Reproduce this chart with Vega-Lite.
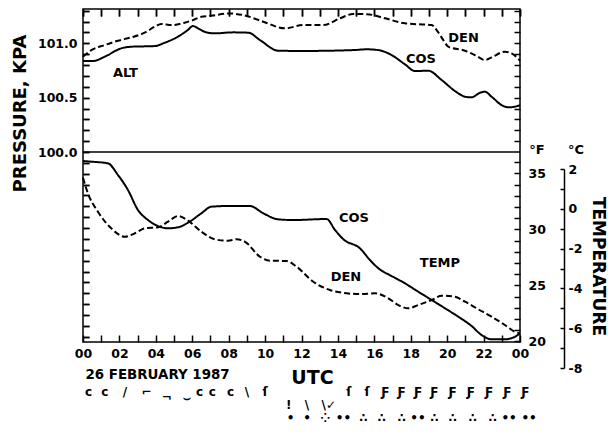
{
"$schema":"https://vega.github.io/schema/vega-lite/v6.json",
"width":437,"height":333,
"autosize":{"type":"none"},
"padding":{"left":83,"top":9,"right":88,"bottom":92},
"background":"white",
"config":{
 "view":{"stroke":"black","strokeWidth":1.5},
 "font":"DejaVu Sans",
 "axis":{"zindex":1,"labelFont":"DejaVu Sans","labelFontWeight":"bold","labelFontSize":12.5,"labelColor":"black","tickColor":"black","tickWidth":1.5,"ticks":true,"domain":false,"domainColor":"black","domainWidth":1.5,"grid":true,"gridColor":"black","gridWidth":1.5,"gridOpacity":1,"gridDash":[7,1000],"titleFont":"DejaVu Sans","titleFontWeight":"bold","titleColor":"black","labelOverlap":false,"labelFlush":false,"labelBound":false},
 "text":{"font":"DejaVu Sans","color":"black"}
},
"datasets":{
 "pressure":[
  {"series":"COS","hour":0,"kPa":100.837},{"series":"COS","hour":0.55,"kPa":100.837},{"series":"COS","hour":1.19,"kPa":100.877},{"series":"COS","hour":2.1,"kPa":100.954},{"series":"COS","hour":2.65,"kPa":100.969},{"series":"COS","hour":3.94,"kPa":100.975},{"series":"COS","hour":4.49,"kPa":101.006},{"series":"COS","hour":5.21,"kPa":101.061},{"series":"COS","hour":5.75,"kPa":101.122},{"series":"COS","hour":6.04,"kPa":101.159},{"series":"COS","hour":6.32,"kPa":101.138},{"series":"COS","hour":6.77,"kPa":101.101},{"series":"COS","hour":7.23,"kPa":101.092},{"series":"COS","hour":8.25,"kPa":101.101},{"series":"COS","hour":9.08,"kPa":101.098},{"series":"COS","hour":9.72,"kPa":101.03},{"series":"COS","hour":10.73,"kPa":100.932},{"series":"COS","hour":12.1,"kPa":100.93},{"series":"COS","hour":14.84,"kPa":100.938},{"series":"COS","hour":15.6,"kPa":100.945},{"series":"COS","hour":16.22,"kPa":100.938},{"series":"COS","hour":16.95,"kPa":100.892},{"series":"COS","hour":17.68,"kPa":100.807},{"series":"COS","hour":18.23,"kPa":100.745},{"series":"COS","hour":18.96,"kPa":100.748},{"series":"COS","hour":19.7,"kPa":100.662},{"series":"COS","hour":20.43,"kPa":100.561},{"series":"COS","hour":20.98,"kPa":100.509},{"series":"COS","hour":21.34,"kPa":100.503},{"series":"COS","hour":21.8,"kPa":100.545},{"series":"COS","hour":22.07,"kPa":100.555},{"series":"COS","hour":22.44,"kPa":100.509},{"series":"COS","hour":22.99,"kPa":100.432},{"series":"COS","hour":23.36,"kPa":100.411},{"series":"COS","hour":23.72,"kPa":100.417},{"series":"COS","hour":24,"kPa":100.432},
  {"series":"DEN","hour":0,"kPa":100.877},{"series":"DEN","hour":0.46,"kPa":100.938},{"series":"DEN","hour":1.19,"kPa":100.984},{"series":"DEN","hour":1.92,"kPa":101.024},{"series":"DEN","hour":2.65,"kPa":101.055},{"series":"DEN","hour":3.39,"kPa":101.098},{"series":"DEN","hour":3.94,"kPa":101.153},{"series":"DEN","hour":4.3,"kPa":101.178},{"series":"DEN","hour":4.85,"kPa":101.168},{"series":"DEN","hour":5.58,"kPa":101.19},{"series":"DEN","hour":6.04,"kPa":101.214},{"series":"DEN","hour":6.5,"kPa":101.245},{"series":"DEN","hour":7.05,"kPa":101.254},{"series":"DEN","hour":8.0,"kPa":101.275},{"series":"DEN","hour":8.8,"kPa":101.26},{"series":"DEN","hour":9.9,"kPa":101.199},{"series":"DEN","hour":11.09,"kPa":101.138},{"series":"DEN","hour":12.1,"kPa":101.168},{"series":"DEN","hour":13.2,"kPa":101.168},{"series":"DEN","hour":14.11,"kPa":101.23},{"series":"DEN","hour":14.84,"kPa":101.27},{"series":"DEN","hour":15.6,"kPa":101.268},{"series":"DEN","hour":16.59,"kPa":101.23},{"series":"DEN","hour":17.68,"kPa":101.184},{"series":"DEN","hour":19.15,"kPa":101.168},{"series":"DEN","hour":19.42,"kPa":101.122},{"series":"DEN","hour":19.79,"kPa":101.03},{"series":"DEN","hour":20.06,"kPa":100.969},{"series":"DEN","hour":20.98,"kPa":100.932},{"series":"DEN","hour":21.53,"kPa":100.892},{"series":"DEN","hour":22.08,"kPa":100.846},{"series":"DEN","hour":22.44,"kPa":100.871},{"series":"DEN","hour":23.17,"kPa":100.923},{"series":"DEN","hour":23.54,"kPa":100.908},{"series":"DEN","hour":24,"kPa":100.84}
 ],
 "temperature":[
  {"series":"COS","hour":0,"F":36.1},{"series":"COS","hour":0.46,"F":36.04},{"series":"COS","hour":1.37,"F":35.89},{"series":"COS","hour":1.92,"F":34.85},{"series":"COS","hour":2.47,"F":33.51},{"series":"COS","hour":3.02,"F":31.72},{"series":"COS","hour":3.57,"F":30.83},{"series":"COS","hour":4.12,"F":30.29},{"series":"COS","hour":4.67,"F":30.09},{"series":"COS","hour":5.22,"F":30.18},{"series":"COS","hour":5.77,"F":30.59},{"series":"COS","hour":6.5,"F":31.43},{"series":"COS","hour":7.05,"F":32.02},{"series":"COS","hour":7.96,"F":32.08},{"series":"COS","hour":9.17,"F":32.08},{"series":"COS","hour":9.9,"F":31.43},{"series":"COS","hour":10.72,"F":30.89},{"series":"COS","hour":11.55,"F":30.83},{"series":"COS","hour":13.38,"F":30.92},{"series":"COS","hour":13.84,"F":29.94},{"series":"COS","hour":14.3,"F":29.11},{"series":"COS","hour":15.21,"F":28.3},{"series":"COS","hour":15.76,"F":27.26},{"series":"COS","hour":16.22,"F":26.52},{"series":"COS","hour":16.95,"F":25.83},{"series":"COS","hour":17.68,"F":25.18},{"series":"COS","hour":18.41,"F":24.43},{"series":"COS","hour":19.15,"F":23.69},{"series":"COS","hour":19.88,"F":22.95},{"series":"COS","hour":20.61,"F":22.2},{"series":"COS","hour":21.34,"F":21.37},{"series":"COS","hour":21.89,"F":20.56},{"series":"COS","hour":22.44,"F":20.18},{"series":"COS","hour":23.17,"F":20.18},{"series":"COS","hour":23.72,"F":20.41},{"series":"COS","hour":24,"F":20.71},
  {"series":"DEN","hour":0,"F":34.6},{"series":"DEN","hour":0.27,"F":33.21},{"series":"DEN","hour":0.82,"F":31.57},{"series":"DEN","hour":1.55,"F":30.09},{"series":"DEN","hour":2.29,"F":29.34},{"series":"DEN","hour":2.84,"F":29.64},{"series":"DEN","hour":3.39,"F":30.09},{"series":"DEN","hour":4.12,"F":30.18},{"series":"DEN","hour":4.67,"F":30.68},{"series":"DEN","hour":5.22,"F":31.19},{"series":"DEN","hour":5.77,"F":30.77},{"series":"DEN","hour":6.5,"F":29.79},{"series":"DEN","hour":7.23,"F":29.11},{"series":"DEN","hour":7.96,"F":28.98},{"series":"DEN","hour":8.44,"F":29.11},{"series":"DEN","hour":8.9,"F":28.89},{"series":"DEN","hour":9.72,"F":27.55},{"series":"DEN","hour":10.27,"F":27.2},{"series":"DEN","hour":11.19,"F":27.17},{"series":"DEN","hour":11.73,"F":26.66},{"series":"DEN","hour":12.65,"F":25.32},{"series":"DEN","hour":13.56,"F":24.58},{"series":"DEN","hour":14.48,"F":24.29},{"series":"DEN","hour":15.21,"F":24.22},{"series":"DEN","hour":16.04,"F":24.29},{"series":"DEN","hour":16.77,"F":23.84},{"series":"DEN","hour":17.32,"F":23.24},{"series":"DEN","hour":17.86,"F":22.95},{"series":"DEN","hour":18.41,"F":23.24},{"series":"DEN","hour":19.15,"F":23.69},{"series":"DEN","hour":19.7,"F":24.07},{"series":"DEN","hour":20.43,"F":23.98},{"series":"DEN","hour":20.98,"F":23.54},{"series":"DEN","hour":21.71,"F":22.86},{"series":"DEN","hour":22.44,"F":22.2},{"series":"DEN","hour":23.17,"F":21.46},{"series":"DEN","hour":23.72,"F":20.86},{"series":"DEN","hour":24,"F":20.71}
 ],
 "plabels":[{"hour":2.33,"kPa":100.73,"label":"ALT"},{"hour":18.56,"kPa":100.86,"label":"COS"},{"hour":20.9,"kPa":101.05,"label":"DEN"}],
 "tlabels":[{"hour":14.88,"F":31.05,"label":"COS"},{"hour":14.44,"F":25.7,"label":"DEN"},{"hour":19.6,"F":27.0,"label":"TEMP"},{"hour":24.93,"F":37.08,"label":"°F"}],
 "symbols":[
  {"hour":0.3,"row":1,"sym":"c"},{"hour":1.2,"row":1,"sym":"c"},{"hour":2.3,"row":1,"sym":"/"},{"hour":3.5,"row":1,"sym":"⌐"},{"hour":4.6,"row":1.35,"sym":"¬"},{"hour":5.7,"row":1.45,"sym":"⌣"},{"hour":6.4,"row":1,"sym":"c"},{"hour":7.1,"row":1,"sym":"c"},{"hour":8.1,"row":1,"sym":"c"},{"hour":9.0,"row":1,"sym":"\\"},{"hour":10.0,"row":1,"sym":"ſ"},
  {"hour":11.3,"row":2,"sym":"!"},{"hour":12.3,"row":2,"sym":"\\"},{"hour":13.5,"row":2,"sym":"\\✓"},
  {"hour":14.6,"row":1,"sym":"ſ"},{"hour":15.6,"row":1,"sym":"ſ"},{"hour":16.6,"row":1,"sym":"Ƒ"},{"hour":17.5,"row":1,"sym":"Ƒ"},{"hour":18.4,"row":1,"sym":"Ƒ"},{"hour":19.3,"row":1,"sym":"Ƒ"},{"hour":20.3,"row":1,"sym":"Ƒ"},{"hour":21.3,"row":1,"sym":"Ƒ"},{"hour":22.3,"row":1,"sym":"Ƒ"},{"hour":23.3,"row":1,"sym":"Ƒ"},{"hour":24.3,"row":1,"sym":"Ƒ"},
  {"hour":11.4,"row":3,"sym":"•"},{"hour":12.3,"row":3,"sym":"•"},{"hour":13.3,"row":3,"sym":"⁘"},{"hour":14.3,"row":3,"sym":"••"},{"hour":15.4,"row":3,"sym":"∴"},{"hour":16.4,"row":3,"sym":"∴"},{"hour":17.5,"row":3,"sym":"∴"},{"hour":18.4,"row":3,"sym":"••"},{"hour":19.3,"row":3,"sym":"∴"},{"hour":20.3,"row":3,"sym":"∴"},{"hour":21.4,"row":3,"sym":"∴"},{"hour":22.5,"row":3,"sym":"∴"},{"hour":23.4,"row":3,"sym":"••"},{"hour":24.5,"row":3,"sym":"••"}
 ]
},
"layer":[
 {"data":{"name":"pressure"},
  "mark":{"type":"line","color":"black","strokeWidth":2,"interpolate":"monotone"},
  "encoding":{
   "x":{"field":"hour","type":"quantitative","scale":{"domain":[0,24],"nice":false,"zero":false},
        "axis":{"orient":"bottom","values":[0,1,2,3,4,5,6,7,8,9,10,11,12,13,14,15,16,17,18,19,20,21,22,23,24],"tickSize":-7,"labelPadding":12,
                "labelExpr":"datum.value % 2 == 0 ? ((datum.value % 24) < 10 ? '0' : '') + (datum.value % 24) : ''",
                "title":"26 FEBRUARY 1987","titleX":2,"titleY":36,"titleAlign":"left","titleBaseline":"alphabetic","titleFontSize":13.4}},
   "y":{"field":"kPa","type":"quantitative","scale":{"domain":[98.252,101.316],"nice":false,"zero":false},
        "axis":{"orient":"left","values":[98.3,98.4,98.5,98.6,98.7,98.8,98.9,99.0,99.1,99.2,99.3,99.4,99.5,99.6,99.7,99.8,99.9,100.0,100.1,100.2,100.3,100.4,100.5,100.6,100.7,100.8,100.9,101.0,101.1,101.2,101.3],
                "tickSize":-6,"labelPadding":12,"gridDash":[6,1000],
                "labelExpr":"(abs(datum.value-100)<0.01 || abs(datum.value-100.5)<0.01 || abs(datum.value-101)<0.01) ? format(datum.value,'.1f') : ''",
                "title":"PRESSURE, KPA","titleX":-63,"titleY":104,"titleAngle":270,"titleAlign":"center","titleBaseline":"middle","titleFontSize":18}},
   "strokeDash":{"field":"series","type":"nominal","scale":{"domain":["COS","DEN"],"range":[[1,0],[6,3]]},"legend":null}
  }},
 {"data":{"values":[{"kPa":100.0,"start":0,"end":24}]},
  "mark":{"type":"rule","color":"black","strokeWidth":1.5},
  "encoding":{
   "x":{"field":"start","type":"quantitative","scale":{"domain":[0,24],"nice":false,"zero":false},
        "axis":{"orient":"top","values":[0,1,2,3,4,5,6,7,8,9,10,11,12,13,14,15,16,17,18,19,20,21,22,23,24],"tickSize":-7,"labels":false,
                "title":"UTC","titleX":229,"titleY":374,"titleAlign":"center","titleBaseline":"alphabetic","titleFontSize":19}},
   "x2":{"field":"end"},
   "y":{"field":"kPa","type":"quantitative","scale":{"domain":[98.252,101.316],"nice":false,"zero":false},
        "axis":{"orient":"right","values":[100.1,100.2,100.3,100.4,100.5,100.6,100.7,100.8,100.9,101.0,101.1,101.2,101.3],"tickSize":-6,"labels":false,"gridDash":[6,1000],"title":null}}
  }},
 {"data":{"name":"plabels"},
  "mark":{"type":"text","fontSize":13,"fontWeight":"bold"},
  "encoding":{
   "x":{"field":"hour","type":"quantitative","scale":{"domain":[0,24],"nice":false,"zero":false},"axis":null},
   "y":{"field":"kPa","type":"quantitative","scale":{"domain":[98.252,101.316],"nice":false,"zero":false},"axis":null},
   "text":{"field":"label"}
  }},
 {"data":{"name":"temperature"},
  "mark":{"type":"line","color":"black","strokeWidth":2,"interpolate":"monotone"},
  "encoding":{
   "x":{"field":"hour","type":"quantitative","scale":{"domain":[0,24],"nice":false,"zero":false},"axis":null},
   "y":{"field":"F","type":"quantitative","scale":{"domain":[19.94,49.67],"nice":false,"zero":false},
        "axis":{"orient":"right","values":[20,21,22,23,24,25,26,27,28,29,30,31,32,33,34,35,36],"tickSize":-6,"labelPadding":14,"gridDash":[6,1000],
                "labelExpr":"datum.value % 5 == 0 ? datum.value : ''","title":null}},
   "strokeDash":{"field":"series","type":"nominal","scale":{"domain":["COS","DEN"],"range":[[1,0],[6,3]]},"legend":null}
  }},
 {"data":{"name":"tlabels"},
  "mark":{"type":"text","fontSize":13,"fontWeight":"bold"},
  "encoding":{
   "x":{"field":"hour","type":"quantitative","scale":{"domain":[0,24],"nice":false,"zero":false},"axis":null},
   "y":{"field":"F","type":"quantitative","scale":{"domain":[19.94,49.67],"nice":false,"zero":false},"axis":null},
   "text":{"field":"label"}
  }},
 {"data":{"values":[{"hour":27.07,"C":2.95,"label":"°C"}]},
  "mark":{"type":"text","fontSize":13,"fontWeight":"bold"},
  "encoding":{
   "x":{"field":"hour","type":"quantitative","scale":{"domain":[0,24],"nice":false,"zero":false},"axis":null},
   "y":{"field":"C","type":"quantitative","scale":{"domain":[-8,2],"range":[359,160],"nice":false,"zero":false},
        "axis":{"orient":"right","offset":44,"values":[-8,-7,-6,-5,-4,-3,-2,-1,0,1,2],"tickSize":-4,"labelPadding":8,"domain":true,"grid":false,
                "labelExpr":"datum.value % 2 == 0 ? datum.value : ''",
                "title":"TEMPERATURE","titleX":33,"titleY":257,"titleAngle":90,"titleAlign":"center","titleBaseline":"middle","titleFontSize":17}},
   "text":{"field":"label"}
  }},
 {"data":{"name":"symbols"},
  "mark":{"type":"text","fontSize":12,"fontWeight":"bold"},
  "encoding":{
   "x":{"field":"hour","type":"quantitative","scale":{"domain":[0,24],"nice":false,"zero":false},"axis":null},
   "y":{"field":"row","type":"quantitative","scale":{"domain":[1,3],"range":[383,409],"nice":false,"zero":false},"axis":null},
   "text":{"field":"sym"}
  }}
],
"resolve":{"scale":{"y":"independent"},"axis":{"x":"independent","y":"independent"}}
}
